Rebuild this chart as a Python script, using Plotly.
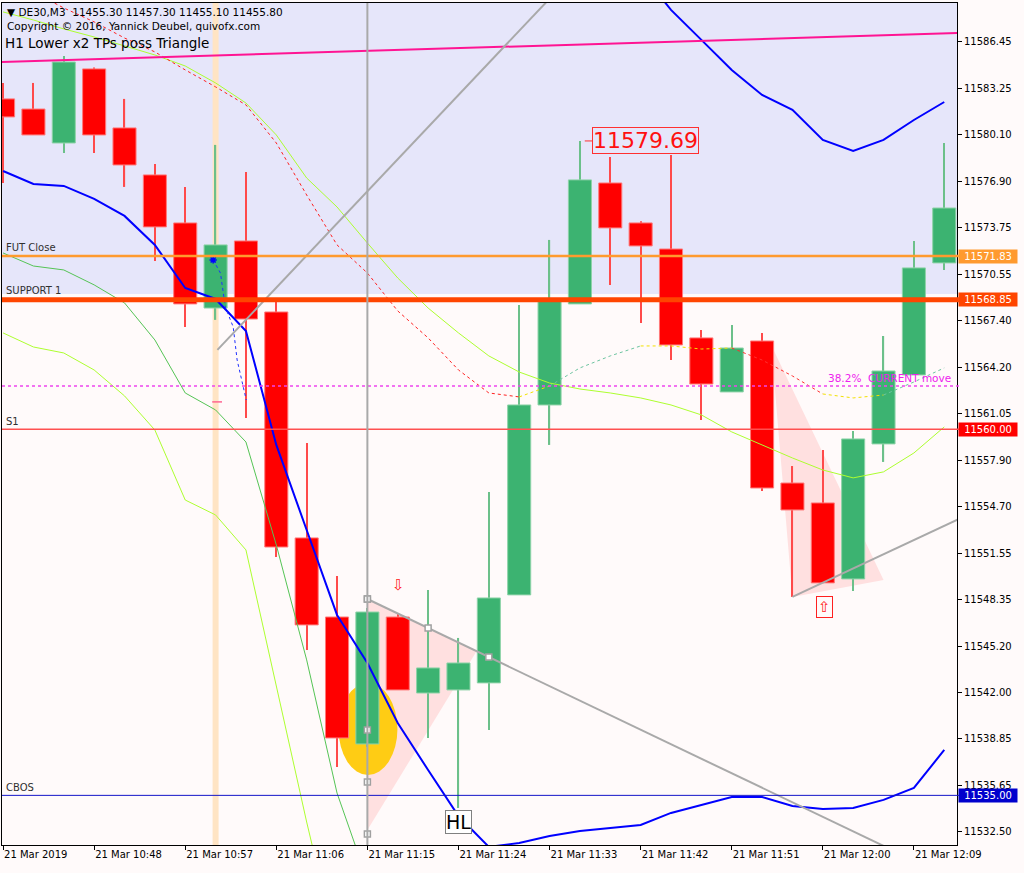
import plotly.graph_objects as go

# ---------------- data ----------------
times = ["10:39", "10:42", "10:45", "10:48", "10:51", "10:54", "10:57", "11:00",
         "11:03", "11:06", "11:09", "11:12", "11:15", "11:18", "11:21", "11:24",
         "11:27", "11:30", "11:33", "11:36", "11:39", "11:42", "11:45", "11:48",
         "11:51", "11:54", "11:57", "12:00", "12:03", "12:06", "12:09", "12:12"]

opens = [11582.56, 11581.87, 11579.55, 11584.61, 11580.58, 11577.37, 11574.09, 11568.28,
         11572.86, 11568.01, 11552.58, 11547.18, 11538.51, 11547.18, 11541.99, 11542.20,
         11542.68, 11548.69, 11561.66, 11568.56, 11576.82, 11574.09, 11572.31, 11566.24,
         11562.55, 11566.03, 11556.33, 11554.97, 11549.78, 11559.00, 11563.71, 11571.36]
highs = [11583.65, 11583.65, 11585.49, 11584.70, 11582.56, 11578.12, 11576.55, 11579.42,
         11577.57, 11568.83, 11559.07, 11549.98, 11547.80, 11547.39, 11549.03, 11545.75,
         11555.72, 11568.49, 11572.93, 11579.69, 11578.60, 11574.20, 11578.73, 11566.78,
         11567.12, 11566.58, 11557.49, 11558.59, 11559.88, 11566.37, 11572.86, 11579.55]
lows = [11576.82, 11580.10, 11578.87, 11578.87, 11576.55, 11571.49, 11566.99, 11567.47,
        11560.77, 11551.28, 11544.93, 11536.94, 11538.30, 11542.20, 11538.92, 11534.14,
        11539.47, 11548.69, 11558.93, 11568.56, 11569.86, 11567.26, 11564.73, 11560.64,
        11562.55, 11555.79, 11548.55, 11549.51, 11548.96, 11557.77, 11563.71, 11570.88]
closes = [11581.33, 11580.10, 11585.08, 11580.10, 11578.05, 11573.82, 11568.56, 11572.59,
          11567.53, 11551.96, 11546.64, 11538.92, 11547.52, 11542.20, 11543.70, 11544.04,
          11548.48, 11561.66, 11568.83, 11577.03, 11573.75, 11572.52, 11565.76, 11563.09,
          11565.55, 11555.99, 11554.49, 11549.51, 11559.34, 11563.98, 11571.02, 11575.11]

# thick blue line (lower band), all bars
blue_lower = [11577.64, 11576.75, 11576.62, 11575.73, 11574.57, 11572.59, 11569.65, 11568.90,
              11566.71, 11558.93, 11553.12, 11547.32, 11544.04, 11539.94, 11536.73, 11533.59,
              11531.48, 11531.75, 11532.23, 11532.57, 11532.77, 11532.98, 11533.80, 11534.34,
              11534.89, 11534.89, 11534.28, 11534.07, 11534.14, 11534.69, 11535.51, 11538.10]
# blue upper band, bars 21..31
blue_upper_start = 21
blue_upper = [11591.23, 11588.64, 11586.59, 11584.54, 11582.83, 11581.81, 11579.76,
              11579.01, 11579.76, 11581.12, 11582.35]

# green lower band, bars 0..12
green_lower = [11572.04, 11571.15, 11570.88, 11569.86, 11568.63, 11566.10, 11562.48,
               11561.32, 11559.13, 11552.10, 11544.25, 11535.16, 11529.22]
# yellow-green lower band, bars 0..11
lime_lower = [11566.58, 11565.62, 11565.21, 11564.05, 11562.28, 11559.95, 11555.17,
              11554.15, 11551.76, 11542.47, 11533.18, 11524.45]
# yellow-green upper line, all bars
lime_upper = [11588.50, 11587.95, 11587.34, 11586.79, 11586.18, 11585.56, 11584.81, 11583.65,
              11582.28, 11580.10, 11577.16, 11575.18, 11572.72, 11570.33, 11568.28, 11566.58,
              11565.01, 11563.91, 11563.16, 11562.75, 11562.48, 11562.14, 11561.66, 11560.98,
              11559.82, 11558.93, 11558.04, 11557.22, 11556.68, 11557.09, 11558.38, 11560.16]
# colour-changing dashed MA, bars 1..31
dma_start = 1
dma = [11589.86, 11588.77, 11587.82, 11586.72, 11585.77, 11584.54, 11583.38, 11582.15,
       11579.55, 11576.00, 11572.59, 11570.67, 11568.08, 11566.24, 11564.05, 11562.48,
       11562.21, 11562.96, 11564.19, 11565.01, 11565.69, 11565.69, 11565.48, 11565.55,
       11564.73, 11563.64, 11562.41, 11562.14, 11562.34, 11563.23, 11564.19]
dma_segments = [(1, 17, "#FF2020"), (17, 18, "#F2E200"), (18, 21, "#6CC4A0"),
                (21, 24, "#F2E200"), (24, 27, "#FF3030"), (27, 29, "#F2E200"),
                (29, 31, "#6CC4A0")]

# small blue dotted signal line
sig_x = [6.92, 7.16, 7.32, 7.58, 7.71, 8.01]
sig_y = [11571.56, 11570.67, 11568.35, 11566.99, 11564.73, 11562.00]

# horizontal levels
fut_close = 11571.83
support1 = 11568.85
s1 = 11560.00
cbos = 11535.00
fib382 = 11562.96
zone_low = 11569.24

# magenta higher-timeframe line (two ends)
mag_x = [-0.05, 31.45]
mag_y = [11585.08, 11587.06]

# grey trendlines (bar index, price)
tl_up_x = [7.06, 18.5]
tl_up_y = [11565.42, 11590.50]
tl_down_x = [12.0, 31.5]
tl_down_y = [11548.41, 11529.07]
tl_down_pts_x = [12.0, 14.0, 16.0]
tl_down_pts_y = [11548.41, 11546.43, 11544.44]
tl_low_x = [26.0, 31.5]
tl_low_y = [11548.55, 11553.89]
vline_bar = 12.0
vline_pts_y = [11548.41, 11539.46, 11535.91, 11532.36]
beige_bar = 7.0

tri1_x = [12.0, 15.6, 12.0]
tri1_y = [11548.41, 11544.86, 11532.64]
tri2_x = [25.3, 26.0, 29.0]
tri2_y = [11565.76, 11548.55, 11549.71]
ellipse_x = [11.05, 12.99]
ellipse_y = [11536.39, 11542.67]

peak_label = 11579.69
ytickvals = [11586.45, 11583.25, 11580.10, 11576.90, 11573.75, 11570.55, 11567.40,
             11564.20, 11561.05, 11557.90, 11554.70, 11551.55, 11548.35, 11545.20,
             11542.00, 11538.85, 11535.65, 11532.50]
xtickvals = [0, 3, 6, 9, 12, 15, 18, 21, 24, 27, 30]
xticktext = ["21 Mar 2019", "21 Mar 10:48", "21 Mar 10:57", "21 Mar 11:06", "21 Mar 11:15",
             "21 Mar 11:24", "21 Mar 11:33", "21 Mar 11:42", "21 Mar 11:51", "21 Mar 12:00",
             "21 Mar 12:09"]

Y_MIN, Y_MAX = 11531.61, 11589.11
X_MIN, X_MAX = -0.035, 31.42
FONT = "DejaVu Sans"

# ---------------- figure ----------------
idx = list(range(len(times)))
bull = [c >= o for o, c in zip(opens, closes)]
fig = go.Figure()

# wicks
fig.add_trace(go.Bar(
    x=idx, y=[h - l for h, l in zip(highs, lows)], base=lows, width=0.04,
    marker=dict(color=["#6CC08A" if b else "#FF4A4A" for b in bull], line=dict(width=0)),
    hoverinfo="skip"))
# bodies
fig.add_trace(go.Bar(
    x=idx, y=[max(abs(c - o), 0.05) for o, c in zip(opens, closes)],
    base=[min(o, c) for o, c in zip(opens, closes)], width=0.76,
    marker=dict(color=["#3CB371" if b else "#FF0000" for b in bull],
                line=dict(color=["#8ED3A8" if b else "#FF7A7A" for b in bull], width=1)),
    hoverinfo="skip"))

def line(x, y, color, width=1, dash="solid"):
    fig.add_trace(go.Scatter(x=x, y=y, mode="lines", line=dict(color=color, width=width, dash=dash),
                             hoverinfo="skip"))

line(idx[:len(green_lower)], green_lower, "#55C455", 1)
line(idx[:len(lime_lower)], lime_lower, "#ADFF2F", 1)
line(idx, lime_upper, "#ADFF2F", 1)
for a, b, col in dma_segments:
    xs = list(range(a, b + 1))
    ys = [dma[i - dma_start] for i in xs]
    line(xs, ys, col, 1, "3px,3px")
line(idx, blue_lower, "#0000FF", 2)
line(list(range(blue_upper_start, blue_upper_start + len(blue_upper))), blue_upper, "#0000FF", 2)
line(sig_x, sig_y, "#2030FF", 1, "dot")
fig.add_trace(go.Scatter(x=[sig_x[0]], y=[sig_y[0]], mode="markers",
                         marker=dict(symbol="asterisk-open", size=6, color="#0000FF",
                                     line=dict(color="#0000FF", width=1.5)), hoverinfo="skip"))
fig.add_trace(go.Scatter(x=[7.05], y=[11561.87], mode="markers",
                         marker=dict(symbol="line-ew-open", size=7,
                                     line=dict(color="#FF5050", width=1.5)), hoverinfo="skip"))
line(mag_x, mag_y, "#FF1493", 2)
line(tl_up_x, tl_up_y, "#A9A9A9", 2)
line(tl_down_x, tl_down_y, "#A9A9A9", 2)
line(tl_low_x, tl_low_y, "#A9A9A9", 2)
fig.add_trace(go.Scatter(x=tl_down_pts_x + [vline_bar] * len(vline_pts_y),
                         y=tl_down_pts_y + vline_pts_y, mode="markers",
                         marker=dict(symbol="square", size=6, color="white",
                                     line=dict(color="#A0A0A0", width=1.5)), hoverinfo="skip"))

shapes = []
# background zone
shapes.append(dict(type="rect", xref="paper", yref="y", x0=0, x1=1, y0=zone_low, y1=Y_MAX,
                   fillcolor="#E6E6FA", line=dict(width=0), layer="below"))
shapes.append(dict(type="line", xref="x", yref="paper", x0=beige_bar, x1=beige_bar, y0=0, y1=1,
                   line=dict(color="#FFE4C4", width=6), layer="below"))
for tx, ty in [(tri1_x, tri1_y), (tri2_x, tri2_y)]:
    path = "M {} {} L {} {} L {} {} Z".format(tx[0], ty[0], tx[1], ty[1], tx[2], ty[2])
    shapes.append(dict(type="path", xref="x", yref="y", path=path, fillcolor="#FFE0E0",
                       line=dict(width=0), layer="below"))
shapes.append(dict(type="circle", xref="x", yref="y", x0=ellipse_x[0], x1=ellipse_x[1],
                   y0=ellipse_y[0], y1=ellipse_y[1], fillcolor="#FFCC14",
                   line=dict(width=0), layer="below"))
# levels
for lvl, col, w, dash in [(fut_close, "#FF9A2E", 2.5, "solid"), (support1, "#FF4500", 5, "solid"),
                          (s1, "#FF5050", 1.3, "solid"), (cbos, "#1414C8", 1, "solid"),
                          (fib382, "#EE44EE", 1.5, "dot")]:
    shapes.append(dict(type="line", xref="paper", yref="y", x0=0, x1=1.002, y0=lvl, y1=lvl,
                       line=dict(color=col, width=w, dash=dash), layer="above"))
shapes.append(dict(type="line", xref="x", yref="paper", x0=vline_bar, x1=vline_bar, y0=0, y1=1,
                   line=dict(color="#A9A9A9", width=2), layer="above"))
shapes.append(dict(type="line", xref="x", yref="y", x0=19.16, x1=19.42, y0=peak_label,
                   y1=peak_label, line=dict(color="#FF3030", width=1), layer="above"))

ann = []
# axis price labels
for lvl, bg in [(fut_close, "#FF9A2E"), (support1, "#FF4500"), (s1, "#FF0000"), (cbos, "#0000CD")]:
    ann.append(dict(xref="paper", yref="y", x=1, y=lvl, xanchor="left", yanchor="middle",
                    xshift=1, text="{:.2f}".format(lvl), showarrow=False, bgcolor=bg,
                    borderpad=1, width=56, align="center",
                    font=dict(family=FONT, size=10, color="white")))
# level names
for lvl, name, ys in [(fut_close, "FUT Close", 1), (support1, "SUPPORT 1", 2),
                      (s1, "S1", 0), (cbos, "CBOS", 0)]:
    ann.append(dict(xref="paper", yref="y", x=0, y=lvl, xanchor="left", yanchor="bottom",
                    xshift=2, yshift=ys, text=name, showarrow=False,
                    font=dict(family=FONT, size=10, color="#303030")))
ann.append(dict(xref="x", yref="y", x=27.1, y=fib382, xanchor="left", yanchor="bottom",
                text="38.2%  CURRENT move", showarrow=False,
                font=dict(family=FONT, size=10.5, color="#EE22EE")))
ann.append(dict(xref="x", yref="y", x=21.17, y=peak_label, xanchor="center", yanchor="middle",
                text="11579.69", showarrow=False, bordercolor="#FF3030", borderwidth=1,
                borderpad=0, font=dict(family=FONT, size=22, color="#FF1010")))
ann.append(dict(xref="x", yref="y", x=15.0, y=11533.18, xanchor="center", yanchor="middle",
                text="HL", showarrow=False, bordercolor="#808080", borderwidth=1, bgcolor="white",
                borderpad=0, font=dict(family=FONT, size=19, color="black")))
ann.append(dict(xref="x", yref="y", x=13.02, y=11549.37, text="⇩", showarrow=False,
                font=dict(family=FONT, size=15, color="#FF2020")))
ann.append(dict(xref="x", yref="y", x=27.07, y=11547.87, text="⇧", showarrow=False,
                bordercolor="#FF2020", borderwidth=1, borderpad=1,
                font=dict(family=FONT, size=15, color="#FF2020")))
# header
ann.append(dict(xref="paper", yref="paper", x=0, y=1, xanchor="left", yanchor="top",
                xshift=3, yshift=-1, text="▼ DE30,M3  11455.30 11457.30 11455.10 11455.80",
                showarrow=False, font=dict(family=FONT, size=10.5, color="black")))
ann.append(dict(xref="paper", yref="paper", x=0, y=1, xanchor="left", yanchor="top",
                xshift=3, yshift=-15, text="Copyright © 2016, Yannick Deubel, quivofx.com",
                showarrow=False, font=dict(family=FONT, size=10.5, color="black")))
ann.append(dict(xref="paper", yref="paper", x=0, y=1, xanchor="left", yanchor="top",
                xshift=1, yshift=-30, text="H1 Lower x2 TPs poss Triangle",
                showarrow=False, font=dict(family=FONT, size=13.5, color="black")))

fig.update_layout(
    width=1024, height=873,
    margin=dict(l=2, r=67, t=3, b=28),
    paper_bgcolor="#FFFAFA", plot_bgcolor="#FFFAFA",
    showlegend=False, barmode="overlay",
    shapes=shapes, annotations=ann,
    font=dict(family=FONT, size=10, color="black"),
)
fig.update_xaxes(range=[X_MIN, X_MAX], tickvals=xtickvals, ticktext=xticktext,
                 ticks="outside", ticklen=4, tickcolor="black", showgrid=False, zeroline=False,
                 showline=True, linecolor="black", linewidth=1, mirror=True,
                 ticklabelposition="outside right",
                 tickfont=dict(family=FONT, size=10, color="black"))
fig.update_yaxes(range=[Y_MIN, Y_MAX], side="right", tickvals=ytickvals,
                 ticktext=["{:.2f}".format(v) for v in ytickvals],
                 ticks="outside", ticklen=4, tickcolor="black", showgrid=False, zeroline=False,
                 showline=True, linecolor="black", linewidth=1, mirror=True,
                 tickfont=dict(family=FONT, size=10, color="black"))

fig.write_html("out.html", config={"displayModeBar": False},
               post_script="document.body.style.margin='0';document.body.style.background='#FFFAFA';")
